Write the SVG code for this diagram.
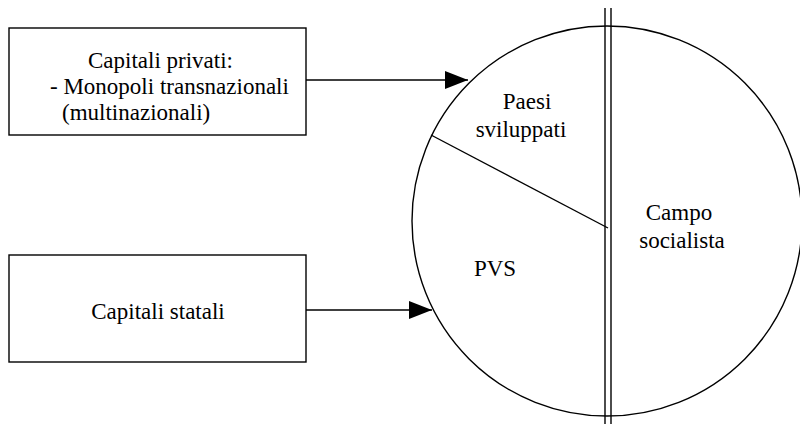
<svg xmlns="http://www.w3.org/2000/svg" width="800" height="430" viewBox="0 0 800 430">
<defs>
<marker id="ah" markerWidth="24" markerHeight="18" refX="23" refY="9" orient="auto" markerUnits="userSpaceOnUse">
<path d="M0,0 L23,9 L0,18 Z" fill="#000"/>
</marker>
</defs>
<rect width="800" height="430" fill="#fff"/>
<g id="circle" fill="none" stroke="#000" stroke-width="1.4">
<circle cx="607" cy="221" r="195"/>
<line x1="431" y1="135" x2="608" y2="228"/>
<line x1="605" y1="8" x2="605" y2="424"/>
<line x1="611" y1="8" x2="611" y2="424"/>
</g>
<g id="circle-labels" fill="#000" text-anchor="middle">
<text font-family="Liberation Serif" font-size="23" x="527" y="109">Paesi</text>
<text font-family="Liberation Serif" font-size="23" x="521" y="137">sviluppati</text>
<text font-family="Liberation Serif" font-size="23" x="679" y="220">Campo</text>
<text font-family="Liberation Serif" font-size="23" x="682" y="248">socialista</text>
<text font-family="Liberation Serif" font-size="23" x="495" y="276">PVS</text>
</g>
<g id="privati">
<rect x="9" y="28" width="297" height="107" fill="#fff" stroke="#000" stroke-width="1.4"/>
<text font-family="Liberation Serif" font-size="23" x="88" y="68">Capitali privati:</text>
<text font-family="Liberation Serif" font-size="23" x="50" y="94">- Monopoli transnazionali</text>
<text font-family="Liberation Serif" font-size="23" x="62" y="120">(multinazionali)</text>
</g>
<g id="statali">
<rect x="9" y="255" width="297" height="107" fill="#fff" stroke="#000" stroke-width="1.4"/>
<text font-family="Liberation Serif" font-size="23" text-anchor="middle" x="158" y="319">Capitali statali</text>
</g>
<g id="connectors" fill="none" stroke="#000" stroke-width="1.4">
<line x1="306" y1="80" x2="468" y2="80" marker-end="url(#ah)"/>
<line x1="306" y1="310" x2="432" y2="310" marker-end="url(#ah)"/>
</g>
</svg>
